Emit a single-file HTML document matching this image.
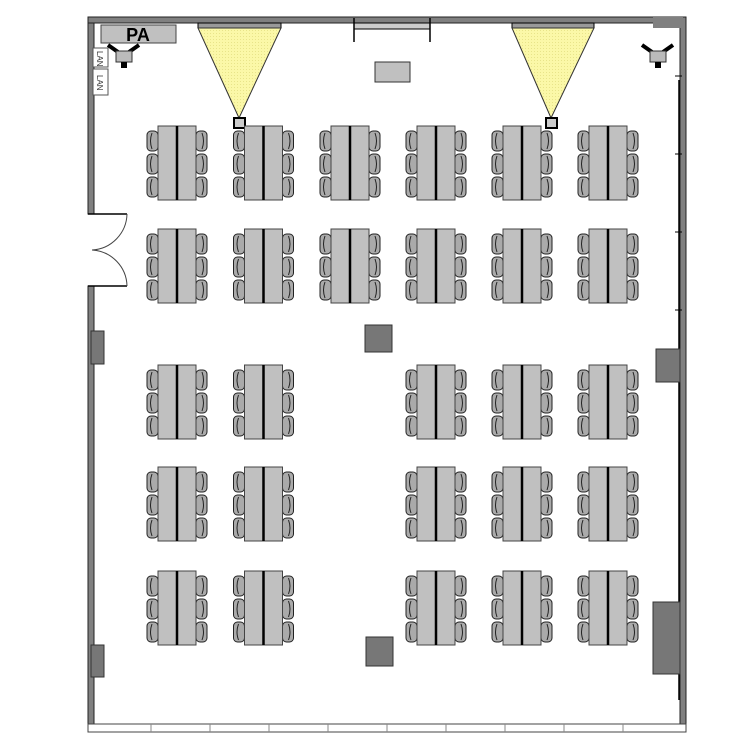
<!DOCTYPE html>
<html><head><meta charset="utf-8"><style>html,body{margin:0;padding:0;background:#fff}svg{display:block}</style></head>
<body>
<svg id="s" width="750" height="750" viewBox="0 0 750 750" xmlns="http://www.w3.org/2000/svg">
<defs>
<pattern id="dots" width="3" height="3" patternUnits="userSpaceOnUse"><rect width="3" height="3" fill="#fbf8a8"/><rect width="1" height="1" fill="#e8e48a"/></pattern>
</defs>
<rect x="88" y="17" width="6" height="197" fill="#808080" stroke="#222" stroke-width="1"/>
<rect x="88" y="286" width="6" height="446" fill="#808080" stroke="#222" stroke-width="1"/>
<rect x="88" y="17" width="598" height="6" fill="#808080" stroke="#222" stroke-width="1"/>
<rect x="680" y="17" width="6" height="715" fill="#808080" stroke="#222" stroke-width="1"/>
<rect x="653" y="17" width="30" height="11" fill="#808080"/>
<line x1="679" y1="80" x2="679" y2="700" stroke="#000" stroke-width="1.5"/>
<g stroke="#000" stroke-width="1"><line x1="675" y1="76" x2="682" y2="76"/><line x1="675" y1="154" x2="682" y2="154"/><line x1="675" y1="232" x2="682" y2="232"/><line x1="675" y1="310" x2="682" y2="310"/></g>
<rect x="88" y="724" width="598" height="8" fill="#fff" stroke="#444" stroke-width="1"/>
<g id="bw" stroke="#888" stroke-width="1"></g>
<path d="M88 214 H127 M88 286 H127" stroke="#000" stroke-width="1.5" fill="none"/>
<path d="M127 214 A37 37 0 0 1 92 250 M127 286 A37 37 0 0 0 92 250" stroke="#444" stroke-width="1" fill="none"/>
<rect x="91" y="331" width="13" height="33" fill="#777" stroke="#333"/>
<rect x="91" y="645" width="13" height="32" fill="#777" stroke="#333"/>
<rect x="656" y="349" width="24" height="33" fill="#777" stroke="#333"/>
<rect x="653" y="602" width="27" height="72" fill="#777" stroke="#333"/>
<rect x="354" y="23" width="76" height="6" fill="#ccc" stroke="#000"/>
<line x1="354" y1="18" x2="354" y2="42" stroke="#000" stroke-width="1.5"/>
<line x1="430" y1="18" x2="430" y2="42" stroke="#000" stroke-width="1.5"/>
<rect x="375" y="62" width="35" height="20" fill="#c0c0c0" stroke="#333"/>
<rect x="101" y="25" width="75" height="18" fill="#c0c0c0" stroke="#444"/>
<text x="138" y="41" text-anchor="middle" font-family="Liberation Sans, sans-serif" font-weight="bold" font-size="18">PA</text>
<rect x="93" y="48" width="15" height="19" fill="#fff" stroke="#555"/>
<rect x="93" y="69" width="15" height="26" fill="#fff" stroke="#555"/>
<text transform="translate(97,51) rotate(90)" font-family="Liberation Sans, sans-serif" font-size="8" fill="#333">LAN</text>
<text transform="translate(97,75) rotate(90)" font-family="Liberation Sans, sans-serif" font-size="8" fill="#333">LAN</text>
<g id="cam1"><path d="M108 45 L118 52 M139 45 L129 52" stroke="#000" stroke-width="4"/><rect x="116" y="51" width="16" height="11" fill="#bbb" stroke="#333"/><rect x="121" y="62" width="6" height="6" fill="#000"/></g>
<use href="#cam1" x="534" y="0"/>
<rect x="198" y="23" width="83" height="5" fill="#999" stroke="#000"/>
<polygon points="198,28 281,28 239,118" fill="url(#dots)" stroke="#333"/>
<rect x="234" y="118" width="11" height="10" fill="#ccc" stroke="#000" stroke-width="2"/>
<rect x="512" y="23" width="82" height="5" fill="#999" stroke="#000"/>
<polygon points="512,28 594,28 551,118" fill="url(#dots)" stroke="#333"/>
<rect x="546" y="118" width="11" height="10" fill="#ccc" stroke="#000" stroke-width="2"/>
<rect x="365" y="325" width="27" height="27" fill="#777" stroke="#333"/>
<rect x="366" y="637" width="27" height="29" fill="#777" stroke="#333"/>
<g id="t"></g>
</svg>
<script>
var g=document.getElementById("t"),out="";
var cols=[177,263.5,350,436,522,608];
var rows=[[126,[0,1,2,3,4,5]],[229,[0,1,2,3,4,5]],[365,[0,1,3,4,5]],[467,[0,1,3,4,5]],[571,[0,1,3,4,5]]];
rows.forEach(function(r){r[1].forEach(function(c){var cx=cols[c],y=r[0],h=74;
for(var i=0;i<3;i++){var cy=y+5+i*23;
out+='<rect x="'+(cx-30)+'" y="'+cy+'" width="11" height="20" rx="4" fill="#aaa" stroke="#222"/>';
out+='<path d="M'+(cx-25)+' '+(cy+2)+' q-3 8 0 16" stroke="#222" fill="none"/>';
out+='<rect x="'+(cx+19)+'" y="'+cy+'" width="11" height="20" rx="4" fill="#aaa" stroke="#222"/>';
out+='<path d="M'+(cx+25)+' '+(cy+2)+' q3 8 0 16" stroke="#222" fill="none"/>';}
out+='<rect x="'+(cx-19)+'" y="'+y+'" width="38" height="'+h+'" fill="#c0c0c0" stroke="#444"/>';
out+='<line x1="'+cx+'" y1="'+y+'" x2="'+cx+'" y2="'+(y+h)+'" stroke="#000" stroke-width="2.5"/>';});});
g.innerHTML=out;
var bw="";for(var x=151;x<680;x+=59)bw+='<line x1="'+x+'" y1="724" x2="'+x+'" y2="732"/>';
document.getElementById("bw").innerHTML=bw;
</script>
</body></html>
